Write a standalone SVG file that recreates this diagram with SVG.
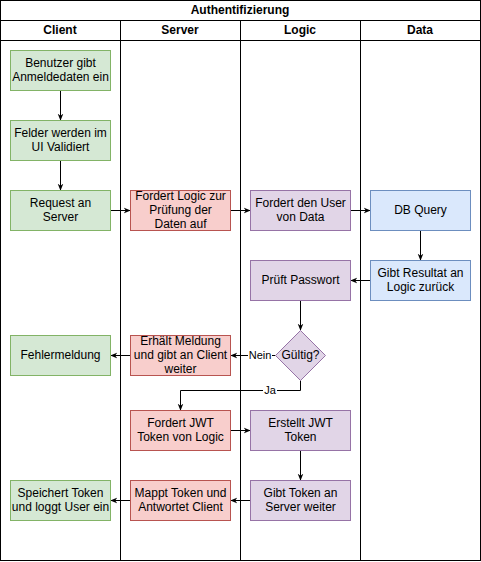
<svg xmlns="http://www.w3.org/2000/svg" width="481" height="562" viewBox="0 0 481 562">
<style>
text{font-family:"Liberation Sans",Arial,sans-serif;font-size:12px;fill:#000;text-anchor:middle}
.h{font-weight:bold}
.g{fill:#d5e8d4;stroke:#82b366}
.r{fill:#f8cecc;stroke:#b85450}
.p{fill:#e1d5e7;stroke:#9673a6}
.b{fill:#dae8fc;stroke:#6c8ebf}
.e{fill:none;stroke:#000;stroke-width:1;marker-end:url(#a)}
.lane{fill:none;stroke:#000;stroke-width:1}
.lbl{font-size:11px}
</style>
<defs>
<marker id="a" viewBox="0 0 10 10" refX="9" refY="5" markerWidth="7" markerHeight="7" orient="auto" markerUnits="userSpaceOnUse">
<path d="M0,1 L10,5 L0,9 L3,5 Z" fill="#000"/>
</marker>
</defs>
<rect x="0" y="0" width="481" height="562" fill="#fff"/>
<g id="pool">
<rect class="lane" x="0.5" y="0.5" width="480" height="560"/>
<line class="lane" x1="0.5" y1="20.5" x2="480.5" y2="20.5"/>
<line class="lane" x1="0.5" y1="40.5" x2="480.5" y2="40.5"/>
<line class="lane" x1="120.5" y1="20.5" x2="120.5" y2="560.5"/>
<line class="lane" x1="240.5" y1="20.5" x2="240.5" y2="560.5"/>
<line class="lane" x1="360.5" y1="20.5" x2="360.5" y2="560.5"/>
<text class="h" x="240" y="14">Authentifizierung</text>
<text class="h" x="60" y="34">Client</text>
<text class="h" x="180" y="34">Server</text>
<text class="h" x="300" y="34">Logic</text>
<text class="h" x="420" y="34">Data</text>
</g>
<g id="edges">
<path class="e" d="M60.5,90.5 V120"/>
<path class="e" d="M60.5,160.5 V190"/>
<path class="e" d="M110.5,210.5 H130"/>
<path class="e" d="M230.5,210.5 H250"/>
<path class="e" d="M350.5,210.5 H370"/>
<path class="e" d="M420.5,230.5 V260"/>
<path class="e" d="M370.5,280.5 H351"/>
<path class="e" d="M300.5,300.5 V330"/>
<path class="e" d="M275.5,355.5 H231"/>
<path class="e" d="M130.5,355.5 H111"/>
<path class="e" d="M300.5,380.5 V390.5 H180.5 V410"/>
<path class="e" d="M230.5,430.5 H250"/>
<path class="e" d="M300.5,450.5 V480"/>
<path class="e" d="M250.5,500.5 H231"/>
<path class="e" d="M130.5,500.5 H111"/>
<rect x="248" y="348" width="24" height="14" fill="#fff"/>
<text class="lbl" x="260" y="359">Nein</text>
<rect x="263" y="384" width="14" height="13" fill="#fff"/>
<text class="lbl" x="270" y="394">Ja</text>
</g>
<g id="n1"><rect class="g" x="10.5" y="50.5" width="100" height="40"/><text x="60.5" y="67">Benutzer gibt</text><text x="60.5" y="81">Anmeldedaten ein</text></g>
<g id="n2"><rect class="g" x="10.5" y="120.5" width="100" height="40"/><text x="60.5" y="137">Felder werden im</text><text x="60.5" y="151">UI Validiert</text></g>
<g id="n3"><rect class="g" x="10.5" y="190.5" width="100" height="40"/><text x="60.5" y="207">Request an</text><text x="60.5" y="221">Server</text></g>
<g id="n4"><rect class="r" x="130.5" y="190.5" width="100" height="40"/><text x="180.5" y="200">Fordert Logic zur</text><text x="180.5" y="214">Prüfung der</text><text x="180.5" y="228">Daten auf</text></g>
<g id="n5"><rect class="p" x="250.5" y="190.5" width="100" height="40"/><text x="300.5" y="207">Fordert den User</text><text x="300.5" y="221">von Data</text></g>
<g id="n6"><rect class="b" x="370.5" y="190.5" width="100" height="40"/><text x="420.5" y="214">DB Query</text></g>
<g id="n7"><rect class="b" x="370.5" y="260.5" width="100" height="40"/><text x="420.5" y="277">Gibt Resultat an</text><text x="420.5" y="291">Logic zurück</text></g>
<g id="n8"><rect class="p" x="250.5" y="260.5" width="100" height="40"/><text x="300.5" y="284">Prüft Passwort</text></g>
<g id="n9"><path class="p" d="M300.5,330.5 L325.5,355.5 L300.5,380.5 L275.5,355.5 Z"/><text x="300.5" y="359">Gültig?</text></g>
<g id="n10"><rect class="r" x="130.5" y="335.5" width="100" height="40"/><text x="180.5" y="345">Erhält Meldung</text><text x="180.5" y="359">und gibt an Client</text><text x="180.5" y="373">weiter</text></g>
<g id="n11"><rect class="g" x="10.5" y="335.5" width="100" height="40"/><text x="60.5" y="359">Fehlermeldung</text></g>
<g id="n12"><rect class="r" x="130.5" y="410.5" width="100" height="40"/><text x="180.5" y="427">Fordert JWT</text><text x="180.5" y="441">Token von Logic</text></g>
<g id="n13"><rect class="p" x="250.5" y="410.5" width="100" height="40"/><text x="300.5" y="427">Erstellt JWT</text><text x="300.5" y="441">Token</text></g>
<g id="n14"><rect class="p" x="250.5" y="480.5" width="100" height="40"/><text x="300.5" y="497">Gibt Token an</text><text x="300.5" y="511">Server weiter</text></g>
<g id="n15"><rect class="r" x="130.5" y="480.5" width="100" height="40"/><text x="180.5" y="497">Mappt Token und</text><text x="180.5" y="511">Antwortet Client</text></g>
<g id="n16"><rect class="g" x="10.5" y="480.5" width="100" height="40"/><text x="60.5" y="497">Speichert Token</text><text x="60.5" y="511">und loggt User ein</text></g>
</svg>
